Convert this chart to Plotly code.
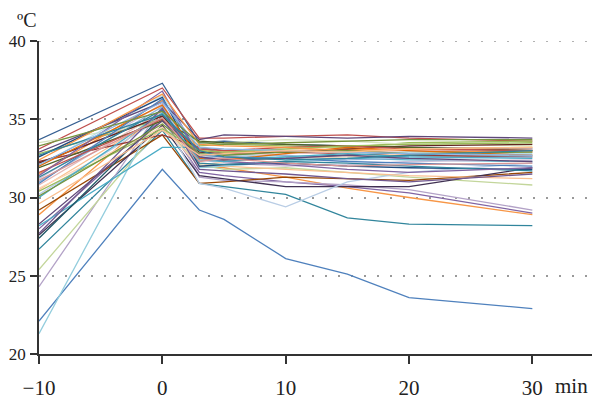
import plotly.graph_objects as go

minutes = [-10, 0, 3, 5, 10, 15, 20, 30]
x_ticks = [-10, 0, 10, 20, 30]
x_tick_labels = ["\u221210", "0", "10", "20", "30"]
y_ticks = [20, 25, 30, 35, 40]

s01 = [22.1, 31.8, 29.2, 28.6, 26.1, 25.1, 23.6, 22.9]
s02 = [26.7, 34.3, 30.9, 30.7, 30.2, 28.7, 28.3, 28.2]
s03 = [28.9, 35.6, 32.0, 31.9, 31.3, 30.6, 30.0, 28.9]
s04 = [28.0, 35.0, 31.6, 31.4, 31.0, 30.7, 30.3, 29.0]
s05 = [24.3, 35.8, 31.3, 31.1, 31.0, 30.8, 30.5, 29.2]
s06 = [25.4, 34.6, 32.1, 31.8, 31.9, 31.6, 31.3, 30.8]
s07 = [29.2, 34.0, 30.9, 31.0, 31.3, 31.2, 31.1, 31.6]
s08 = [27.6, 34.6, 31.4, 31.2, 30.7, 30.7, 30.7, 31.9]
s09 = [30.2, 35.1, 30.9, 30.6, 29.4, 31.0, 31.6, 32.2]
s10 = [30.5, 35.3, 32.2, 32.0, 31.8, 31.6, 31.4, 31.2]
s11 = [33.7, 37.3, 33.5, 33.6, 33.4, 33.3, 33.2, 33.1]
s12 = [33.1, 37.0, 33.8, 33.8, 33.9, 34.0, 33.8, 33.6]
s13 = [21.3, 35.9, 31.9, 32.0, 32.3, 32.5, 32.6, 32.7]
s14 = [28.2, 33.2, 33.2, 32.8, 32.6, 32.5, 32.4, 32.3]
s15 = [32.3, 34.0, 33.2, 33.0, 32.9, 32.8, 32.7, 32.6]
s16 = [27.4, 35.2, 32.5, 32.4, 32.6, 32.7, 32.9, 33.0]
s17 = [32.8, 35.0, 33.3, 33.4, 33.3, 33.2, 33.5, 33.6]
s18 = [31.5, 36.2, 33.0, 32.9, 33.0, 33.1, 33.0, 32.9]
s19 = [31.0, 35.8, 32.6, 32.5, 32.7, 32.4, 32.5, 32.6]
s20 = [30.8, 35.5, 32.3, 32.6, 32.8, 32.9, 33.0, 33.1]
s21 = [33.5, 34.8, 33.6, 33.5, 33.7, 33.6, 33.4, 33.3]
s22 = [31.2, 36.0, 32.4, 32.2, 32.0, 32.1, 32.3, 32.4]
s23 = [32.0, 36.5, 32.8, 32.7, 32.6, 32.8, 32.9, 32.8]
s24 = [30.6, 34.5, 32.0, 32.3, 32.5, 32.6, 32.8, 32.9]
s25 = [32.6, 36.4, 32.0, 32.1, 32.2, 32.0, 31.9, 31.8]
s26 = [32.2, 35.2, 32.9, 32.8, 32.9, 33.1, 33.3, 33.4]
s27 = [31.9, 34.9, 33.6, 33.5, 33.4, 33.3, 33.2, 33.0]
s28 = [32.9, 36.1, 33.7, 34.0, 33.9, 33.8, 33.9, 33.8]
s29 = [31.3, 35.6, 32.2, 32.1, 32.3, 32.2, 32.0, 31.7]
s30 = [32.0, 35.9, 32.5, 32.4, 32.8, 33.2, 33.0, 32.7]
s31 = [30.9, 36.3, 32.7, 32.6, 32.5, 32.3, 32.2, 32.0]
s32 = [31.6, 35.0, 33.1, 33.0, 33.2, 33.3, 33.1, 33.0]
s33 = [30.4, 34.4, 33.0, 32.9, 33.1, 33.3, 33.4, 33.5]
s34 = [31.4, 36.8, 32.6, 32.3, 32.1, 31.8, 31.6, 31.9]
s35 = [30.0, 35.4, 32.4, 32.3, 32.6, 32.8, 32.6, 32.5]
s36 = [32.4, 36.6, 33.4, 33.3, 33.2, 33.0, 33.1, 33.2]
s37 = [27.7, 35.7, 31.8, 31.7, 31.5, 31.2, 31.0, 31.5]
s38 = [28.3, 34.9, 32.6, 32.4, 32.5, 32.7, 32.5, 32.3]
s39 = [30.1, 34.7, 32.8, 32.7, 32.9, 33.0, 32.8, 32.9]
s40 = [32.7, 35.3, 33.0, 32.6, 32.4, 32.5, 32.7, 33.0]
s41 = [31.1, 35.1, 32.3, 32.5, 32.2, 32.0, 32.1, 32.2]
s42 = [32.1, 36.1, 33.2, 33.1, 33.0, 32.9, 32.8, 32.7]
s43 = [33.3, 35.5, 33.5, 33.4, 33.5, 33.6, 33.7, 33.7]
s44 = [29.6, 34.3, 32.7, 32.8, 33.0, 32.9, 33.1, 33.2]

series = [s01, s02, s03, s04, s05, s06, s07, s08, s09, s10, s11, s12, s13, s14, s15,
          s16, s17, s18, s19, s20, s21, s22, s23, s24, s25, s26, s27, s28, s29, s30,
          s31, s32, s33, s34, s35, s36, s37, s38, s39, s40, s41, s42, s43, s44]

colors = ["#4F81BD", "#31859C", "#F79646", "#8064A2", "#B3A2C7", "#C3D69B", "#984807",
          "#403152", "#B9CDE5", "#FAC090", "#376092", "#C0504D", "#93CDDD", "#4BACC6",
          "#953735", "#215968", "#9BBB59", "#F79646", "#95B3D7", "#E6B9B8", "#D7E4BD",
          "#CCC1DA", "#B7DEE8", "#FCD5B5", "#1F497D", "#632523", "#4F6228", "#5F497A",
          "#31859C", "#E46C0A", "#4F81BD", "#C0504D", "#9BBB59", "#8064A2", "#4BACC6",
          "#F79646", "#71588F", "#60497A", "#77933C", "#31859C", "#D99694", "#8EB4E3",
          "#76923C", "#FAC090"]

fig = go.Figure()
for vals, col in zip(series, colors):
    fig.add_trace(go.Scatter(x=minutes, y=vals, mode="lines",
                             line=dict(color=col, width=1.3), showlegend=False,
                             hoverinfo="skip"))

family = "Liberation Serif, Times New Roman, serif"
font = dict(family=family, size=21, color="#222")
yfont = dict(family=family, size=17, color="#222")
dotgrid = "2px,11px"

fig.update_layout(
    width=592, height=391,
    margin=dict(l=31, r=6, t=33, b=45),
    paper_bgcolor="white", plot_bgcolor="white",
    font=font,
    xaxis=dict(range=[-10, 35], showgrid=False, zeroline=False, automargin=False,
               showline=True, linecolor="#333", linewidth=1.5,
               ticks="outside", ticklen=8, tickwidth=1.5, tickcolor="#333",
               ticklabelstandoff=6,
               tickvals=x_ticks, ticktext=x_tick_labels, tickfont=font),
    yaxis=dict(range=[20, 40], showgrid=True, gridcolor="#999", gridwidth=1.5,
               griddash=dotgrid, zeroline=False, automargin=False,
               showline=True, linecolor="#333", linewidth=1.5,
               ticks="outside", ticklen=7, tickwidth=1.5, tickcolor="#333",
               ticklabelstandoff=1,
               tickvals=y_ticks, tickfont=yfont),
    shapes=[dict(type="line", xref="paper", yref="y", x0=0, x1=1, y0=40, y1=40,
                 line=dict(color="#999", width=1.5, dash=dotgrid), layer="below")],
    annotations=[
        dict(text="\u00baC", xref="paper", yref="paper", x=-0.043, y=1.0,
             yshift=34, xanchor="left", yanchor="top", showarrow=False,
             font=dict(family=family, size=20, color="#222")),
        dict(text="min", xref="paper", yref="paper", x=0.992, y=0,
             yshift=-32, xanchor="right", yanchor="middle", showarrow=False,
             font=dict(family=family, size=21, color="#222")),
    ],
)

fig.write_html("out.html")
